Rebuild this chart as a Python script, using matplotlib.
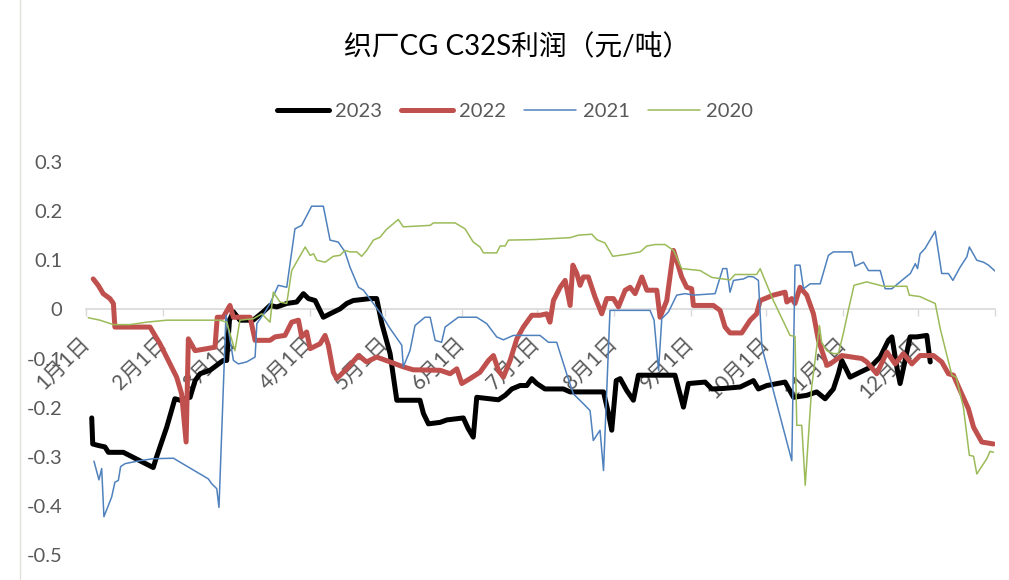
import numpy as np
import matplotlib.pyplot as plt
from matplotlib.lines import Line2D

plt.rcParams['font.family'] = ['Lato', 'Noto Sans CJK SC', 'DejaVu Sans']

# day of year (0 = 1月1日) and profit values
days_2023 = [2.3, 2.7, 4.9, 7.6, 9.0, 15.0, 27.0, 28.1, 29.7, 32.4, 35.7, 37.8, 41.8, 43.8,
             45.8, 49.8, 55.1, 56.5, 57.6, 59.2, 61.8, 67.1, 71.2, 73.9, 76.6, 80.6, 84.6,
             87.3, 89.3, 92.0, 95.3, 98.0, 102.0, 104.7, 107.3, 114.1, 116.7, 118.8, 122.1,
             124.8, 134.1, 135.5, 137.5, 142.2, 144.9, 151.5, 153.5, 155.5, 156.9, 165.6,
             168.3, 171.0, 174.3, 177.0, 179.0, 181.0, 184.3, 191.7, 194.4, 207.8, 209.8,
             211.1, 212.9, 214.5, 217.1, 219.8, 221.8, 236.5, 239.9, 241.9, 248.6, 251.3,
             255.9, 262.7, 268.0, 270.0, 273.4, 280.7, 284.1, 289.4, 293.4, 296.8, 300.1,
             302.1, 303.5, 306.8, 310.8, 314.9, 318.9, 322.2, 323.6, 325.6, 326.9, 328.9,
             330.9, 333.6, 337.6, 339.0]
vals_2023 = [-0.221, -0.274, -0.277, -0.280, -0.291, -0.291, -0.322, -0.304, -0.280, -0.240,
             -0.182, -0.185, -0.179, -0.145, -0.131, -0.124, -0.104, -0.104, -0.022, -0.005,
             -0.022, -0.022, -0.005, 0.008, 0.005, 0.012, 0.015, 0.032, 0.022, 0.018, -0.016,
             -0.009, 0.001, 0.012, 0.018, 0.022, 0.022, -0.029, -0.090, -0.185, -0.185,
             -0.212, -0.233, -0.230, -0.225, -0.221, -0.243, -0.260, -0.179, -0.184, -0.175,
             -0.162, -0.155, -0.155, -0.141, -0.151, -0.162, -0.162, -0.168, -0.168, -0.212,
             -0.246, -0.145, -0.141, -0.165, -0.185, -0.134, -0.134, -0.199, -0.151, -0.148,
             -0.162, -0.161, -0.158, -0.145, -0.162, -0.155, -0.148, -0.179, -0.175, -0.168,
             -0.182, -0.162, -0.131, -0.104, -0.138, -0.128, -0.118, -0.097, -0.063, -0.056,
             -0.118, -0.151, -0.104, -0.056, -0.056, -0.053, -0.107]

days_2022 = [2.9, 4.9, 6.9, 9.6, 11.0, 11.6, 25.7, 29.7, 36.4, 38.4, 40.2, 41.1, 43.8, 48.5,
             51.8, 52.7, 55.1, 57.8, 59.2, 65.9, 67.9, 73.9, 75.9, 79.9, 82.6, 85.3, 86.6,
             88.6, 90.0, 94.0, 96.0, 97.3, 99.3, 100.7, 104.7, 109.4, 112.7, 116.7, 122.1,
             127.4, 131.4, 142.2, 146.2, 148.9, 150.9, 154.2, 158.2, 161.6, 163.6, 165.6,
             167.6, 170.3, 173.0, 175.6, 179.0, 182.3, 185.0, 186.3, 187.7, 190.4, 192.4,
             194.4, 195.5, 197.1, 198.4, 199.7, 201.7, 204.4, 207.1, 209.1, 211.8, 213.8,
             216.5, 218.5, 220.5, 223.2, 225.2, 229.2, 230.5, 233.2, 235.9, 239.2, 241.2,
             243.2, 243.9, 251.9, 254.6, 256.6, 258.6, 263.3, 266.7, 269.3, 270.7, 276.0,
             280.7, 281.4, 283.4, 284.7, 286.7, 289.4, 292.1, 294.1, 297.5, 298.8, 303.5,
             311.5, 313.5, 317.5, 321.6, 324.9, 328.2, 331.6, 334.9, 340.3, 343.6, 346.3,
             348.3, 351.0, 354.3, 356.4, 359.7, 364.4]
vals_2022 = [0.062, 0.049, 0.032, 0.022, 0.012, -0.036, -0.036, -0.070, -0.138, -0.172, -0.270,
             -0.060, -0.084, -0.080, -0.077, -0.016, -0.016, 0.008, -0.016, -0.016, -0.063,
             -0.063, -0.056, -0.053, -0.026, -0.022, -0.056, -0.046, -0.080, -0.070, -0.053,
             -0.073, -0.128, -0.141, -0.121, -0.094, -0.107, -0.097, -0.107, -0.117, -0.123,
             -0.124, -0.131, -0.121, -0.151, -0.141, -0.128, -0.104, -0.094, -0.124, -0.138,
             -0.104, -0.060, -0.036, -0.012, -0.012, -0.009, -0.026, 0.018, 0.045, 0.059,
             0.008, 0.090, 0.073, 0.049, 0.066, 0.066, 0.025, -0.009, 0.022, 0.022, 0.005,
             0.039, 0.045, 0.032, 0.066, 0.039, 0.039, -0.016, 0.018, 0.120, 0.066, 0.045,
             0.042, 0.008, 0.008, -0.002, -0.036, -0.048, -0.048, -0.022, -0.009, 0.018,
             0.029, 0.035, 0.015, 0.022, 0.012, 0.045, 0.029, -0.009, -0.063, -0.114, -0.111,
             -0.094, -0.100, -0.107, -0.131, -0.087, -0.111, -0.090, -0.111, -0.094, -0.094,
             -0.107, -0.131, -0.134, -0.165, -0.202, -0.240, -0.270, -0.274]

days_2021 = [3.2, 5.2, 6.3, 7.2, 10.3, 11.6, 13.0, 13.9, 15.7, 21.7, 27.0, 35.1, 49.1, 50.5,
             52.5, 53.4, 56.2, 59.2, 61.2, 64.5, 67.9, 68.6, 71.9, 73.9, 77.2, 80.6, 83.9,
             86.6, 90.6, 95.3, 98.0, 101.3, 104.0, 106.0, 109.4, 111.4, 115.4, 118.8, 122.1,
             126.8, 127.4, 130.1, 132.1, 136.1, 138.2, 140.2, 142.8, 144.2, 149.5, 156.9,
             160.9, 164.9, 167.6, 171.6, 182.3, 185.7, 189.0, 193.0, 195.7, 199.7, 202.4,
             203.7, 206.4, 207.8, 210.4, 226.5, 228.1, 229.9, 231.2, 233.9, 237.2, 240.6,
             243.9, 252.6, 255.7, 257.3, 258.6, 260.0, 264.0, 266.0, 268.0, 270.0, 271.4,
             283.4, 284.7, 286.7, 288.1, 290.8, 294.8, 298.1, 300.1, 307.5, 308.8, 312.2,
             314.2, 318.9, 320.9, 323.6, 327.6, 331.0, 333.0, 333.9, 334.9, 336.9, 341.0,
             343.6, 346.3, 348.1, 351.0, 353.7, 354.7, 357.7, 360.4, 362.4, 365.0]
vals_2021 = [-0.309, -0.347, -0.324, -0.422, -0.382, -0.352, -0.348, -0.320, -0.314, -0.308,
             -0.304, -0.303, -0.345, -0.355, -0.365, -0.403, -0.012, -0.104, -0.111, -0.107,
             -0.097, -0.029, -0.005, 0.012, 0.049, 0.045, 0.164, 0.171, 0.210, 0.210, 0.141,
             0.137, 0.117, 0.086, 0.045, 0.039, 0.012, -0.012, -0.039, -0.073, -0.117, -0.084,
             -0.033, -0.016, -0.016, -0.063, -0.067, -0.036, -0.016, -0.016, -0.029, -0.056,
             -0.062, -0.053, -0.053, -0.067, -0.067, -0.131, -0.172, -0.192, -0.206, -0.267,
             -0.246, -0.328, -0.002, -0.002, -0.022, -0.124, -0.019, -0.005, 0.029, 0.032,
             0.029, 0.032, 0.083, 0.083, 0.035, 0.059, 0.062, 0.067, 0.066, 0.059, -0.077,
             -0.308, 0.090, 0.090, 0.042, 0.052, 0.052, 0.110, 0.117, 0.117, 0.088, 0.096,
             0.079, 0.079, 0.042, 0.042, 0.059, 0.073, 0.093, 0.083, 0.113, 0.124, 0.159,
             0.073, 0.073, 0.059, 0.086, 0.107, 0.127, 0.100, 0.096, 0.090, 0.078]

days_2020 = [0.9, 5.6, 11.0, 17.7, 24.4, 32.4, 53.8, 56.5, 59.8, 61.8, 67.2, 70.6, 73.9, 75.2,
             77.9, 80.6, 82.6, 88.0, 90.0, 91.4, 92.7, 96.0, 99.3, 102.0, 104.0, 106.0, 108.7,
             110.7, 112.7, 115.4, 118.1, 120.5, 125.4, 127.4, 138.2, 139.5, 148.2, 152.2,
             155.5, 158.2, 159.6, 164.9, 166.3, 168.3, 169.6, 179.6, 194.4, 197.7, 203.1,
             205.1, 208.4, 211.5, 217.1, 222.5, 225.2, 228.5, 232.5, 235.9, 239.2, 246.6,
             251.3, 258.6, 260.6, 269.3, 270.7, 276.0, 282.7, 284.7, 285.4, 287.4, 288.8,
             291.4, 294.5, 295.4, 297.5, 300.1, 302.1, 304.1, 306.1, 308.4, 313.5, 320.2,
             329.6, 330.6, 334.9, 338.3, 341.0, 343.0, 345.5, 347.7, 349.4, 352.3, 354.7,
             356.4, 357.7, 361.7, 363.0, 364.4]
vals_2020 = [-0.017, -0.022, -0.031, -0.031, -0.026, -0.022, -0.022, -0.026, -0.084, -0.022,
             -0.019, -0.009, -0.026, 0.035, 0.015, 0.012, 0.079, 0.127, 0.110, 0.113, 0.100,
             0.096, 0.108, 0.110, 0.120, 0.117, 0.117, 0.108, 0.120, 0.141, 0.147, 0.162,
             0.183, 0.168, 0.171, 0.176, 0.176, 0.164, 0.137, 0.127, 0.115, 0.115, 0.129,
             0.129, 0.141, 0.142, 0.146, 0.151, 0.153, 0.142, 0.135, 0.108, 0.112, 0.117,
             0.129, 0.132, 0.132, 0.120, 0.083, 0.079, 0.065, 0.060, 0.071, 0.071, 0.083,
             0.018, -0.053, -0.055, -0.236, -0.236, -0.358, -0.158, -0.033, -0.067, -0.084,
             -0.090, -0.090, -0.049, -0.002, 0.049, 0.056, 0.047, 0.047, 0.029, 0.026, 0.018,
             0.012, -0.039, -0.090, -0.134, -0.138, -0.199, -0.297, -0.299, -0.335, -0.304,
             -0.289, -0.291]

month_starts = [0, 31, 59, 90, 120, 151, 181, 212, 243, 273, 304, 334, 365]
month_labels = ['1月1日', '2月1日', '3月1日', '4月1日', '5月1日', '6月1日', '7月1日',
                '8月1日', '9月1日', '10月1日', '11月1日', '12月1日', '']
y_ticks = [-0.5, -0.4, -0.3, -0.2, -0.1, 0, 0.1, 0.2, 0.3]
y_labels = ['-0.5', '-0.4', '-0.3', '-0.2', '-0.1', '0', '0.1', '0.2', '0.3']

series = [
    ('2023', days_2023, vals_2023, '#000000', 3.6),
    ('2022', days_2022, vals_2022, '#C0504D', 3.6),
    ('2021', days_2021, vals_2021, '#4F81BD', 1.1),
    ('2020', days_2020, vals_2020, '#9BBB59', 1.1),
]

fig = plt.figure(figsize=(10.09, 5.80), dpi=100)
ax = fig.add_axes([86 / 1009, 1 - 555 / 580, 909 / 1009, 393 / 580])

for i, (name, d, v, c, lw) in enumerate(series):
    ax.plot(d, v, color=c, lw=lw, label=name, zorder=3 + i,
            solid_capstyle='round', solid_joinstyle='round')

ax.set_xlim(0, 365)
ax.set_ylim(-0.5, 0.3)
for s in ['left', 'top', 'right']:
    ax.spines[s].set_visible(False)
ax.spines['bottom'].set_position(('data', 0))
ax.spines['bottom'].set_color('#d9d9d9')
ax.spines['bottom'].set_linewidth(1.2)
ax.spines['bottom'].set_zorder(2)

ax.set_yticks(y_ticks)
ax.set_yticklabels(y_labels)
ax.tick_params(axis='y', length=0, pad=17, labelsize=14.5, labelcolor='#595959')

ax.set_xticks(month_starts)
ax.set_xticklabels(month_labels)
ax.tick_params(axis='x', length=5, width=1, color='#d9d9d9', direction='out',
               pad=17, labelsize=15, labelcolor='#595959')
for lbl in ax.get_xticklabels():
    lbl.set_rotation(45)
    lbl.set_ha('right')
    lbl.set_va('center')
    lbl.set_rotation_mode('anchor')

fig.text(517 / 1009, 1 - 47 / 580, '织厂CG C32S利润（元/吨）', ha='center', va='center',
         fontsize=20, color='#000000')

fig.legend(loc='center', bbox_to_anchor=(515 / 1009, 1 - 111 / 580), ncol=4,
           frameon=False, fontsize=14.5, handlelength=2.6, handletextpad=0.3,
           columnspacing=0.9, labelcolor='#595959')

fig.add_artist(Line2D([20 / 1009, 20 / 1009], [0, 1], color='#e3e1da', lw=1))

fig.savefig('out.png', dpi=100)
